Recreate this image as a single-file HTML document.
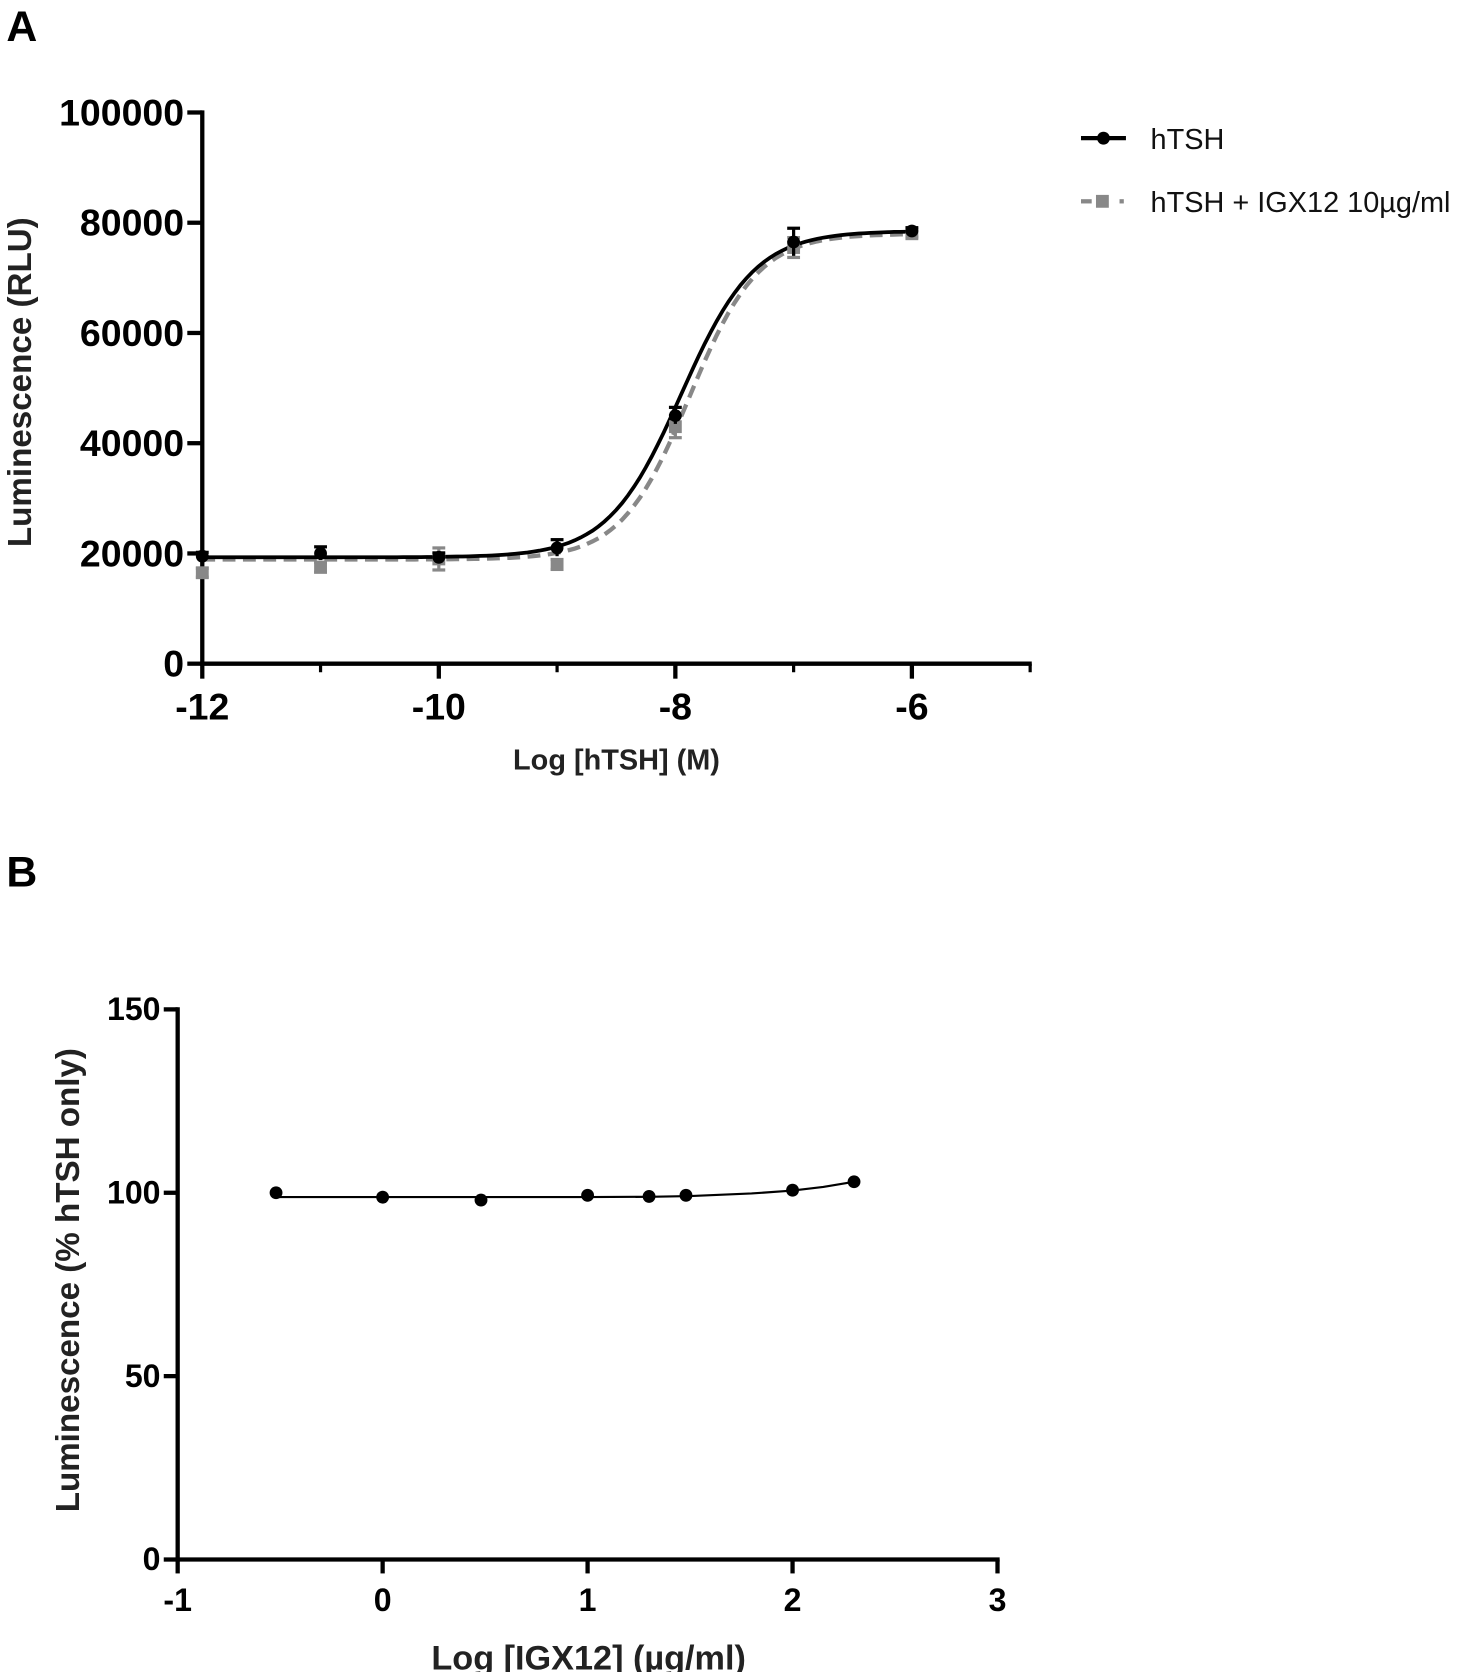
<!DOCTYPE html>
<html><head><meta charset="utf-8"><style>
html,body{margin:0;padding:0;background:#fff;}
svg{display:block;font-family:"Liberation Sans",Arial,sans-serif;}
</style></head><body>
<svg id="fig" width="1477" height="1672" viewBox="0 0 1380 1562">
<text x="6" y="38" font-size="40" font-weight="bold">A</text>
<text x="6" y="828" font-size="40" font-weight="bold">B</text>
<g id="chartA"></g>
<g id="chartB"></g>
</svg>
<script>
const NS="http://www.w3.org/2000/svg";
// ---- Chart A data ----
const aX=[-12,-11,-10,-9,-8,-7,-6];
const aBlack=[19500,20000,19300,21000,45000,76500,78500];
const aBlackErr=[700,1200,800,1500,1500,2500,600];
const aGray=[16500,17500,19000,18000,43000,75500,78000];
const aGrayErr=[800,900,2000,900,2000,1800,600];
const aBlackFit=[19300,78500,-7.95,1.4]; // bottom, top, logEC50, hill
const aGrayFit=[18900,78000,-7.88,1.5];
const aYTicks=[0,20000,40000,60000,80000,100000];
const aXTicks=[-12,-10,-8,-6];
// ---- Chart B data ----
const bX=[-0.52,0,0.48,1,1.3,1.48,2,2.3];
const bY=[100,98.8,98,99.3,99,99.3,100.7,103];
const bFitX=[-0.52,0,0.5,1,1.3,1.5,1.8,2,2.15,2.3];
const bFitY=[98.8,98.8,98.8,98.8,98.9,99.1,99.8,100.6,101.6,103];
const bYTicks=[0,50,100,150];
const bXTicks=[-1,0,1,2,3];

function el(tag,attrs,parent,text){const e=document.createElementNS(NS,tag);for(const k in attrs)e.setAttribute(k,attrs[k]);if(text!==undefined)e.textContent=text;parent.appendChild(e);return e;}

// Chart A
(function(){
const g=document.getElementById('chartA');
const xs=v=>189+(v+12)*110.5;
const ys=v=>620-v*(515/100000);
let e=el('line',{x1:189,y1:103,x2:189,y2:622,stroke:'#000','stroke-width':4},g);

e=el('line',{x1:187,y1:620,x2:964,y2:620,stroke:'#000','stroke-width':4},g);

aYTicks.forEach(t=>{el('line',{x1:175,y1:ys(t),x2:189,y2:ys(t),stroke:'#000','stroke-width':4},g);
 const tx=el('text',{x:172,y:ys(t)+12,'font-size':35,'font-weight':'bold','text-anchor':'end'},g,String(t));
 });
aXTicks.forEach(t=>{el('line',{x1:xs(t),y1:620,x2:xs(t),y2:634,stroke:'#000','stroke-width':4},g);
 const tx=el('text',{x:xs(t),y:672,'font-size':35,'font-weight':'bold','text-anchor':'middle'},g,String(t));
 });
[-11,-9,-7,-5].forEach(t=>el('line',{x1:xs(t),y1:620,x2:xs(t),y2:628,stroke:'#000','stroke-width':3},g));
e=el('text',{x:576,y:719,'font-size':27,'font-weight':'bold','text-anchor':'middle',fill:'#222'},g,'Log [hTSH] (M)');

e=el('text',{x:0,y:0,'font-size':31,'font-weight':'bold','text-anchor':'middle',fill:'#222',transform:'translate(29,357) rotate(-90)'},g,'Luminescence (RLU)');

function curve(p){let d='';for(let x=-12;x<=-6.0001+0.001;x+=0.05){const y=p[0]+(p[1]-p[0])/(1+Math.pow(10,(p[2]-x)*p[3]));d+=(d?'L':'M')+xs(x).toFixed(1)+','+ys(y).toFixed(1);}return d;}
e=el('path',{d:curve(aGrayFit),fill:'none',stroke:'#888','stroke-width':4,'stroke-dasharray':'12,7'},g);

e=el('path',{d:curve(aBlackFit),fill:'none',stroke:'#000','stroke-width':3.5},g);

aX.forEach((x,i)=>{
 const cx=xs(x);
 el('line',{x1:cx,y1:ys(aGray[i]-aGrayErr[i]),x2:cx,y2:ys(aGray[i]+aGrayErr[i]),stroke:'#888','stroke-width':3},g);
 [aGray[i]-aGrayErr[i],aGray[i]+aGrayErr[i]].forEach(v=>el('line',{x1:cx-6,y1:ys(v),x2:cx+6,y2:ys(v),stroke:'#888','stroke-width':3},g));
 const r=el('rect',{x:cx-6,y:ys(aGray[i])-6,width:12,height:12,fill:'#888'},g);
 
 el('line',{x1:cx,y1:ys(aBlack[i]-aBlackErr[i]),x2:cx,y2:ys(aBlack[i]+aBlackErr[i]),stroke:'#000','stroke-width':3},g);
 el('line',{x1:cx-6,y1:ys(aBlack[i]+aBlackErr[i]),x2:cx+6,y2:ys(aBlack[i]+aBlackErr[i]),stroke:'#000','stroke-width':3},g);
 const c=el('circle',{cx:cx,cy:ys(aBlack[i]),r:6,fill:'#000'},g);
 
});
const lg=el('g',{},g);
el('line',{x1:1010,y1:129,x2:1052,y2:129,stroke:'#000','stroke-width':4},lg);
el('circle',{cx:1031,cy:129,r:6,fill:'#000'},lg);
e=el('text',{x:1075,y:139,'font-size':27,fill:'#111'},lg,'hTSH');

el('line',{x1:1010,y1:188,x2:1020,y2:188,stroke:'#888','stroke-width':4},lg);
el('rect',{x:1024,y:182,width:12,height:12,fill:'#888'},lg);
el('line',{x1:1046,y1:188,x2:1050,y2:188,stroke:'#888','stroke-width':4},lg);
e=el('text',{x:1075,y:198,'font-size':27,fill:'#111'},lg,'hTSH + IGX12 10µg/ml');

})();

// Chart B
(function(){
const g=document.getElementById('chartB');
const xs=v=>166+(v+1)*191.5;
const ys=v=>1457-v*(514/150);
let e=el('line',{x1:166,y1:941,x2:166,y2:1459,stroke:'#000','stroke-width':4},g);

e=el('line',{x1:164,y1:1457,x2:934,y2:1457,stroke:'#000','stroke-width':4},g);

bYTicks.forEach(t=>{el('line',{x1:153,y1:ys(t),x2:166,y2:ys(t),stroke:'#000','stroke-width':4},g);
 const tx=el('text',{x:150,y:ys(t)+10,'font-size':30,'font-weight':'bold','text-anchor':'end'},g,String(t));
 });
bXTicks.forEach(t=>{el('line',{x1:xs(t),y1:1457,x2:xs(t),y2:1470,stroke:'#000','stroke-width':4},g);
 const tx=el('text',{x:xs(t),y:1505,'font-size':30,'font-weight':'bold','text-anchor':'middle'},g,String(t));
 });
e=el('text',{x:550,y:1560,'font-size':32,'font-weight':'bold','text-anchor':'middle',fill:'#222'},g,'Log [IGX12] (µg/ml)');

e=el('text',{x:0,y:0,'font-size':31,'font-weight':'bold','text-anchor':'middle',fill:'#222',transform:'translate(74,1196) rotate(-90)'},g,'Luminescence (% hTSH only)');

let d='';bFitX.forEach((x,i)=>{d+=(i?'L':'M')+xs(x).toFixed(1)+','+ys(bFitY[i]).toFixed(1);});
e=el('path',{d:d,fill:'none',stroke:'#000','stroke-width':2,'stroke-linejoin':'round'},g);

bX.forEach((x,i)=>{const c=el('circle',{cx:xs(x),cy:ys(bY[i]),r:6,fill:'#000'},g);
 });
})();
</script>
</body></html>
